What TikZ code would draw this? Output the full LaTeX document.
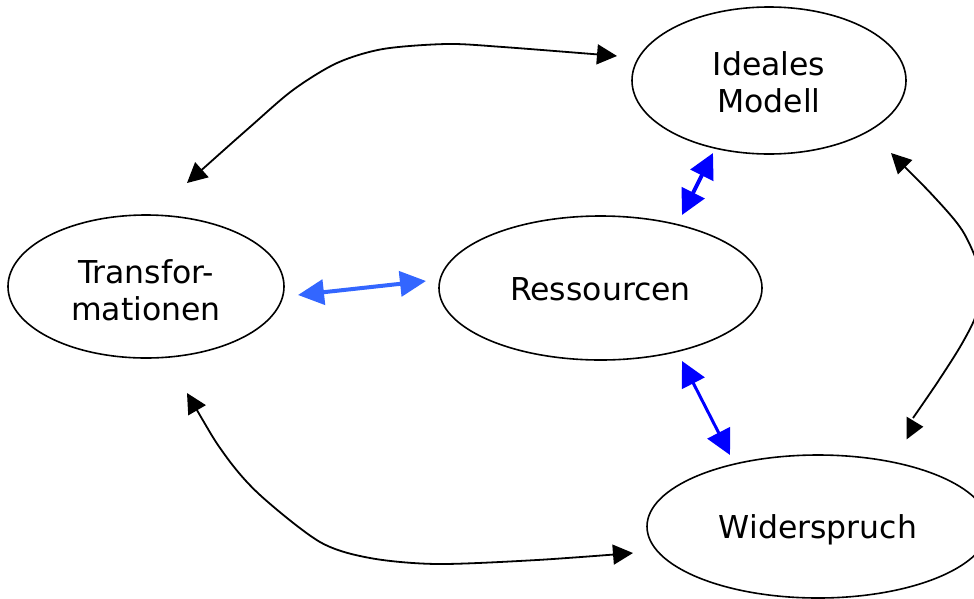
\documentclass[tikz,border=0pt]{standalone}
\usepackage{fontspec}
\setmainfont{DejaVu Sans}
\usetikzlibrary{arrows.meta,shapes.geometric}
\definecolor{arrowblue}{RGB}{0,0,255}
\definecolor{softblue}{RGB}{51,102,255}
\begin{document}
\begin{tikzpicture}[x=1pt,y=-1pt,
  concept/.style={ellipse,draw,line width=1.6pt,inner sep=0pt,align=center,
    font=\fontsize{31.5}{37}\selectfont,text depth=0pt},
  cycleline/.style={line width=1.8pt,{Triangle[length=20pt,width=20pt]}-{Triangle[length=20pt,width=20pt]}},
  cycleend/.style={line width=1.8pt,{Triangle[length=20pt,width=20pt]}-},
  corelink/.style={arrowblue,{Triangle[length=25pt,width=25pt]}-{Triangle[length=25pt,width=25pt]}},
  softlink/.style={softblue,line width=4pt,{Triangle[length=26pt,width=25pt]}-{Triangle[length=26pt,width=25pt]}}]
\useasboundingbox (0,0) rectangle (974,598);
\clip (0,0) rectangle (974,598);

% concepts (text height fixes the baseline of the last line)
\node[concept,minimum width=274pt,minimum height=147pt,text height=63pt] (ideal) at (769,80.5) {Ideales\\Modell};
\node[concept,minimum width=276pt,minimum height=143pt,text height=67pt] (trans) at (146,286.5) {Transfor-\\mationen};
\node[concept,minimum width=323pt,minimum height=144pt,text height=24pt] (ress) at (600.5,288) {Ressourcen};
\node[concept,minimum width=342pt,minimum height=143pt,text height=24pt] (wid) at (818,526.5) {Widerspruch};

% end points of the outer cycle
\coordinate (trans-up) at ([shift={(41,-103.5)}]trans.center);
\coordinate (ideal-left) at ([shift={(-152,-24.5)}]ideal.center);
\coordinate (trans-down) at ([shift={(41,106.5)}]trans.center);
\coordinate (wid-left) at ([shift={(-185,26.5)}]wid.center);
\coordinate (ideal-right) at ([shift={(122,72.5)}]ideal.center);
\coordinate (wid-up) at ([shift={(95,-108.5)}]wid.center);

% outer cycle
\draw[cycleline] plot[smooth] coordinates
  {(trans-up) (250,127) (293,90) (337,63) (383,49) (447,44) (503,47) (ideal-left)};
\draw[cycleline] plot[smooth] coordinates
  {(trans-down) (225,455) (260,495) (320,542) (370,558) (437,564) (537,560) (wid-left)};
\draw[cycleend] plot[smooth] coordinates
  {(ideal-right) (937,200) (962,230) (977,262) (982,290) (975,318) (960,347) (937,383) (wid-up)};
\fill ([shift={(88.7,-109.8)}]wid.center) -- ([shift={(105.3,-99.8)}]wid.center)
  -- ([shift={(88.7,-87.2)}]wid.center) -- cycle;

% links to the resources
\draw[corelink,line width=4pt] ([shift={(-56,72.5)}]ideal.center) -- ([shift={(81.5,-73)}]ress.center);
\draw[corelink,line width=3pt] ([shift={(81.5,73)}]ress.center) -- ([shift={(-88,-71.5)}]wid.center);
\draw[softlink] ([shift={(152,8.5)}]trans.center) -- ([shift={(-174.5,-7)}]ress.center);
\end{tikzpicture}
\end{document}
